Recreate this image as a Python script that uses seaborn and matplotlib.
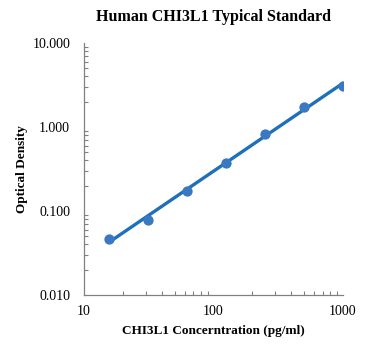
import numpy as np
import pandas as pd
import matplotlib
matplotlib.use("Agg")
import matplotlib.pyplot as plt
import seaborn as sns
from matplotlib.ticker import FixedLocator, LogLocator, NullFormatter

# Standard curve data
concentration = [15.6, 31.25, 62.5, 125, 250, 500, 1000]
optical_density = [0.047, 0.078, 0.174, 0.37, 0.83, 1.75, 3.1]

df = pd.DataFrame({"conc": concentration, "od": optical_density})

# power trendline (fit in log-log space)
slope, intercept = np.polyfit(np.log10(df["conc"]), np.log10(df["od"]), 1)
fit = pd.DataFrame({"conc": df["conc"]})
fit["od"] = 10 ** (intercept + slope * np.log10(fit["conc"]))

sns.set_style("white")
plt.rcParams["font.family"] = ["Liberation Serif", "DejaVu Serif"]
plt.rcParams["text.color"] = "black"
plt.rcParams["axes.labelcolor"] = "black"

fig = plt.figure(figsize=(3.69, 3.51), dpi=100)
ax = fig.add_axes([84 / 369, 56 / 351, 259 / 369, 252 / 351])

sns.scatterplot(data=df, x="conc", y="od", ax=ax, color="#3b78c2",
                s=55, edgecolor="#3b78c2", linewidth=0, zorder=3)
sns.lineplot(data=fit, x="conc", y="od", ax=ax, color="#1f70b8",
             linewidth=2.4, zorder=2)

ax.set_xscale("log")
ax.set_yscale("log")
ax.set_xlim(10, 1000)
ax.set_ylim(0.01, 10)

ax.xaxis.set_major_locator(FixedLocator([10, 100, 1000]))
ax.set_xticklabels(["10", "100", "1000"])
ax.yaxis.set_major_locator(FixedLocator([0.01, 0.1, 1, 10]))
ax.set_yticklabels(["0.010", "0.100", "1.000", "10.000"])
ax.xaxis.set_minor_locator(LogLocator(base=10, subs=np.arange(2, 10)))
ax.yaxis.set_minor_locator(LogLocator(base=10, subs=np.arange(2, 10)))
ax.xaxis.set_minor_formatter(NullFormatter())
ax.yaxis.set_minor_formatter(NullFormatter())

ax.tick_params(which="both", direction="in", color="#808080", width=0.8,
               bottom=True, left=True, labelsize=10, labelcolor="black")
ax.tick_params(which="major", length=0)
ax.tick_params(axis="y", which="major", pad=10)
ax.tick_params(axis="x", which="major", pad=7)
ax.tick_params(which="minor", length=3)

for side in ["top", "right"]:
    ax.spines[side].set_visible(False)
for side in ["left", "bottom"]:
    ax.spines[side].set_color("#808080")
    ax.spines[side].set_linewidth(0.9)

ax.set_xlabel("CHI3L1 Concerntration (pg/ml)", fontsize=9.5,
              fontweight="bold", labelpad=5)
ax.set_ylabel("Optical Density", fontsize=9.5, fontweight="bold", labelpad=3)
fig.suptitle("Human CHI3L1 Typical Standard", fontsize=11.5,
             fontweight="bold", x=213.5 / 369, y=1 - 17 / 351, va="center")

fig.savefig("out.png", dpi=100)
